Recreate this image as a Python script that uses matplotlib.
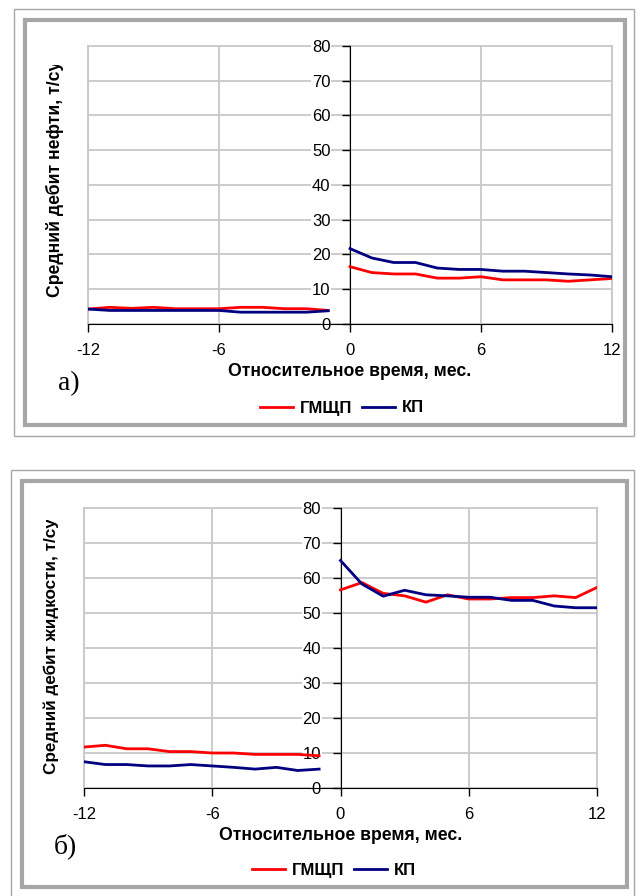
import matplotlib
matplotlib.use("Agg")
import matplotlib.pyplot as plt
from matplotlib.patches import Rectangle
from matplotlib.transforms import Bbox, TransformedBbox

# months before / after treatment
months_before = [-12, -11, -10, -9, -8, -7, -6, -5, -4, -3, -2, -1]
months_after = [0, 1, 2, 3, 4, 5, 6, 7, 8, 9, 10, 11, 12]

# a) average oil rate, t/day
oil_gmshp_before = [4.3, 4.8, 4.5, 4.8, 4.4, 4.4, 4.4, 4.8, 4.8, 4.4, 4.4, 3.9]
oil_kp_before = [4.3, 3.9, 3.9, 3.9, 3.9, 3.9, 3.9, 3.4, 3.4, 3.4, 3.4, 3.8]
oil_gmshp_after = [16.5, 14.8, 14.4, 14.4, 13.2, 13.2, 13.6, 12.7, 12.7, 12.7, 12.3, 12.7, 13.1]
oil_kp_after = [21.7, 19.0, 17.7, 17.7, 16.1, 15.7, 15.7, 15.2, 15.2, 14.8, 14.4, 14.1, 13.6]

# б) average liquid rate, t/day
liq_gmshp_before = [11.7, 12.2, 11.2, 11.2, 10.4, 10.4, 10.0, 10.0, 9.6, 9.6, 9.6, 9.2]
liq_kp_before = [7.5, 6.7, 6.7, 6.3, 6.3, 6.7, 6.3, 5.9, 5.4, 5.9, 5.0, 5.4]
liq_gmshp_after = [56.6, 58.7, 55.6, 54.9, 53.1, 55.2, 54.0, 54.0, 54.4, 54.4, 54.9, 54.4, 57.3]
liq_kp_after = [65.0, 58.3, 54.8, 56.5, 55.2, 54.9, 54.5, 54.5, 53.6, 53.6, 52.0, 51.5, 51.5]

x_ticks = [-12, -6, 0, 6, 12]
y_ticks = [0, 10, 20, 30, 40, 50, 60, 70, 80]
series_names = ["ГМЩП", "КП"]
series_colors = ["#ff0000", "#000080"]

W, H = 636, 896
plt.rcParams['font.family'] = ['Liberation Sans', 'DejaVu Sans']
plt.rcParams['axes.unicode_minus'] = False
fig = plt.figure(figsize=(W / 100, H / 100), dpi=100)


def px(x, y):
    return x / W, 1 - y / H


def frame(x0, y0, x1, y1, lw, color):
    r = Rectangle((x0 / W, 1 - y1 / H), (x1 - x0) / W, (y1 - y0) / H,
                  transform=fig.transFigure, fill=False, lw=lw, ec=color)
    fig.patches.append(r)


def panel(box, before, after, ylabel, ylab_pos, ylab_size, clip_top, tag, tag_pos, leg_pos):
    left, top, right, bottom = box
    ax = fig.add_axes([left / W, 1 - bottom / H, (right - left) / W, (bottom - top) / H])
    ax.set_xlim(-12, 12)
    ax.set_ylim(0, 80)
    for yb, ya, c, name in zip(before, after, series_colors, series_names):
        ax.plot(months_before, yb, color=c, lw=2.0, zorder=4, label=name)
        ax.plot(months_after, ya, color=c, lw=2.0, zorder=4)

    ax.set_xticks(x_ticks)
    ax.set_yticks(y_ticks)
    ax.grid(True, color="#c8c8c8", lw=1.3, zorder=0)
    ax.axvline(-12, color="#c8c8c8", lw=1.3, clip_on=False, zorder=1)
    ax.spines["top"].set_visible(False)
    ax.spines["right"].set_color("#c8c8c8")
    ax.spines["right"].set_linewidth(1.3)
    ax.spines["left"].set_position(("data", 0))
    ax.spines["left"].set_color("black")
    ax.spines["bottom"].set_color("black")
    ax.spines["left"].set_zorder(3)
    ax.tick_params(axis="y", direction="out", length=6, width=1, pad=8, labelsize=12)
    ax.tick_params(axis="x", direction="out", length=6, width=1, pad=8, labelsize=12)
    for tk in ax.yaxis.get_major_ticks():
        tk.gridline.set_clip_on(False)
        tk.label1.set_bbox(dict(fc="white", ec="none", pad=0.5))
    ax.set_xlabel("Относительное время, мес.", fontsize=12.7, fontweight="bold", labelpad=3)

    t = fig.text(*px(*ylab_pos), ylabel, rotation=90, ha="center", va="bottom",
                 fontsize=ylab_size, fontweight="bold")
    t.set_clip_box(TransformedBbox(Bbox([[0, 0], [1, 1 - clip_top / H]]), fig.transFigure))
    t.set_clip_on(True)

    fig.text(*px(*tag_pos), tag, fontsize=20, family="Liberation Serif", ha="left", va="center")

    handles, labels = ax.get_legend_handles_labels()
    fig.legend(handles, labels, loc="center", bbox_to_anchor=px(*leg_pos), ncol=2,
               frameon=False, handlelength=2.0, columnspacing=0.6, handletextpad=0.4,
               prop={"size": 12, "weight": "bold"})
    return ax


# outer and inner frames
frame(14, 9, 634, 436, 1.0, "#a8a8a8")
frame(25, 20, 625, 425, 3.0, "#a6a6a6")
frame(11, 470, 634, 900, 1.0, "#a8a8a8")
frame(22, 481, 627, 887, 3.0, "#a6a6a6")

panel((88, 46, 612, 324), (oil_gmshp_before, oil_kp_before), (oil_gmshp_after, oil_kp_after),
      "Средний дебит нефти, т/сут", (55, 297), 12.7, 65, "а)", (58, 384), (342, 408))
panel((84, 508, 597, 788), (liq_gmshp_before, liq_kp_before), (liq_gmshp_after, liq_kp_after),
      "Средний дебит жидкости, т/сут", (51, 774), 12.3, 520, "б)", (54, 846), (334, 870))

fig.savefig("out.png", dpi=100)
